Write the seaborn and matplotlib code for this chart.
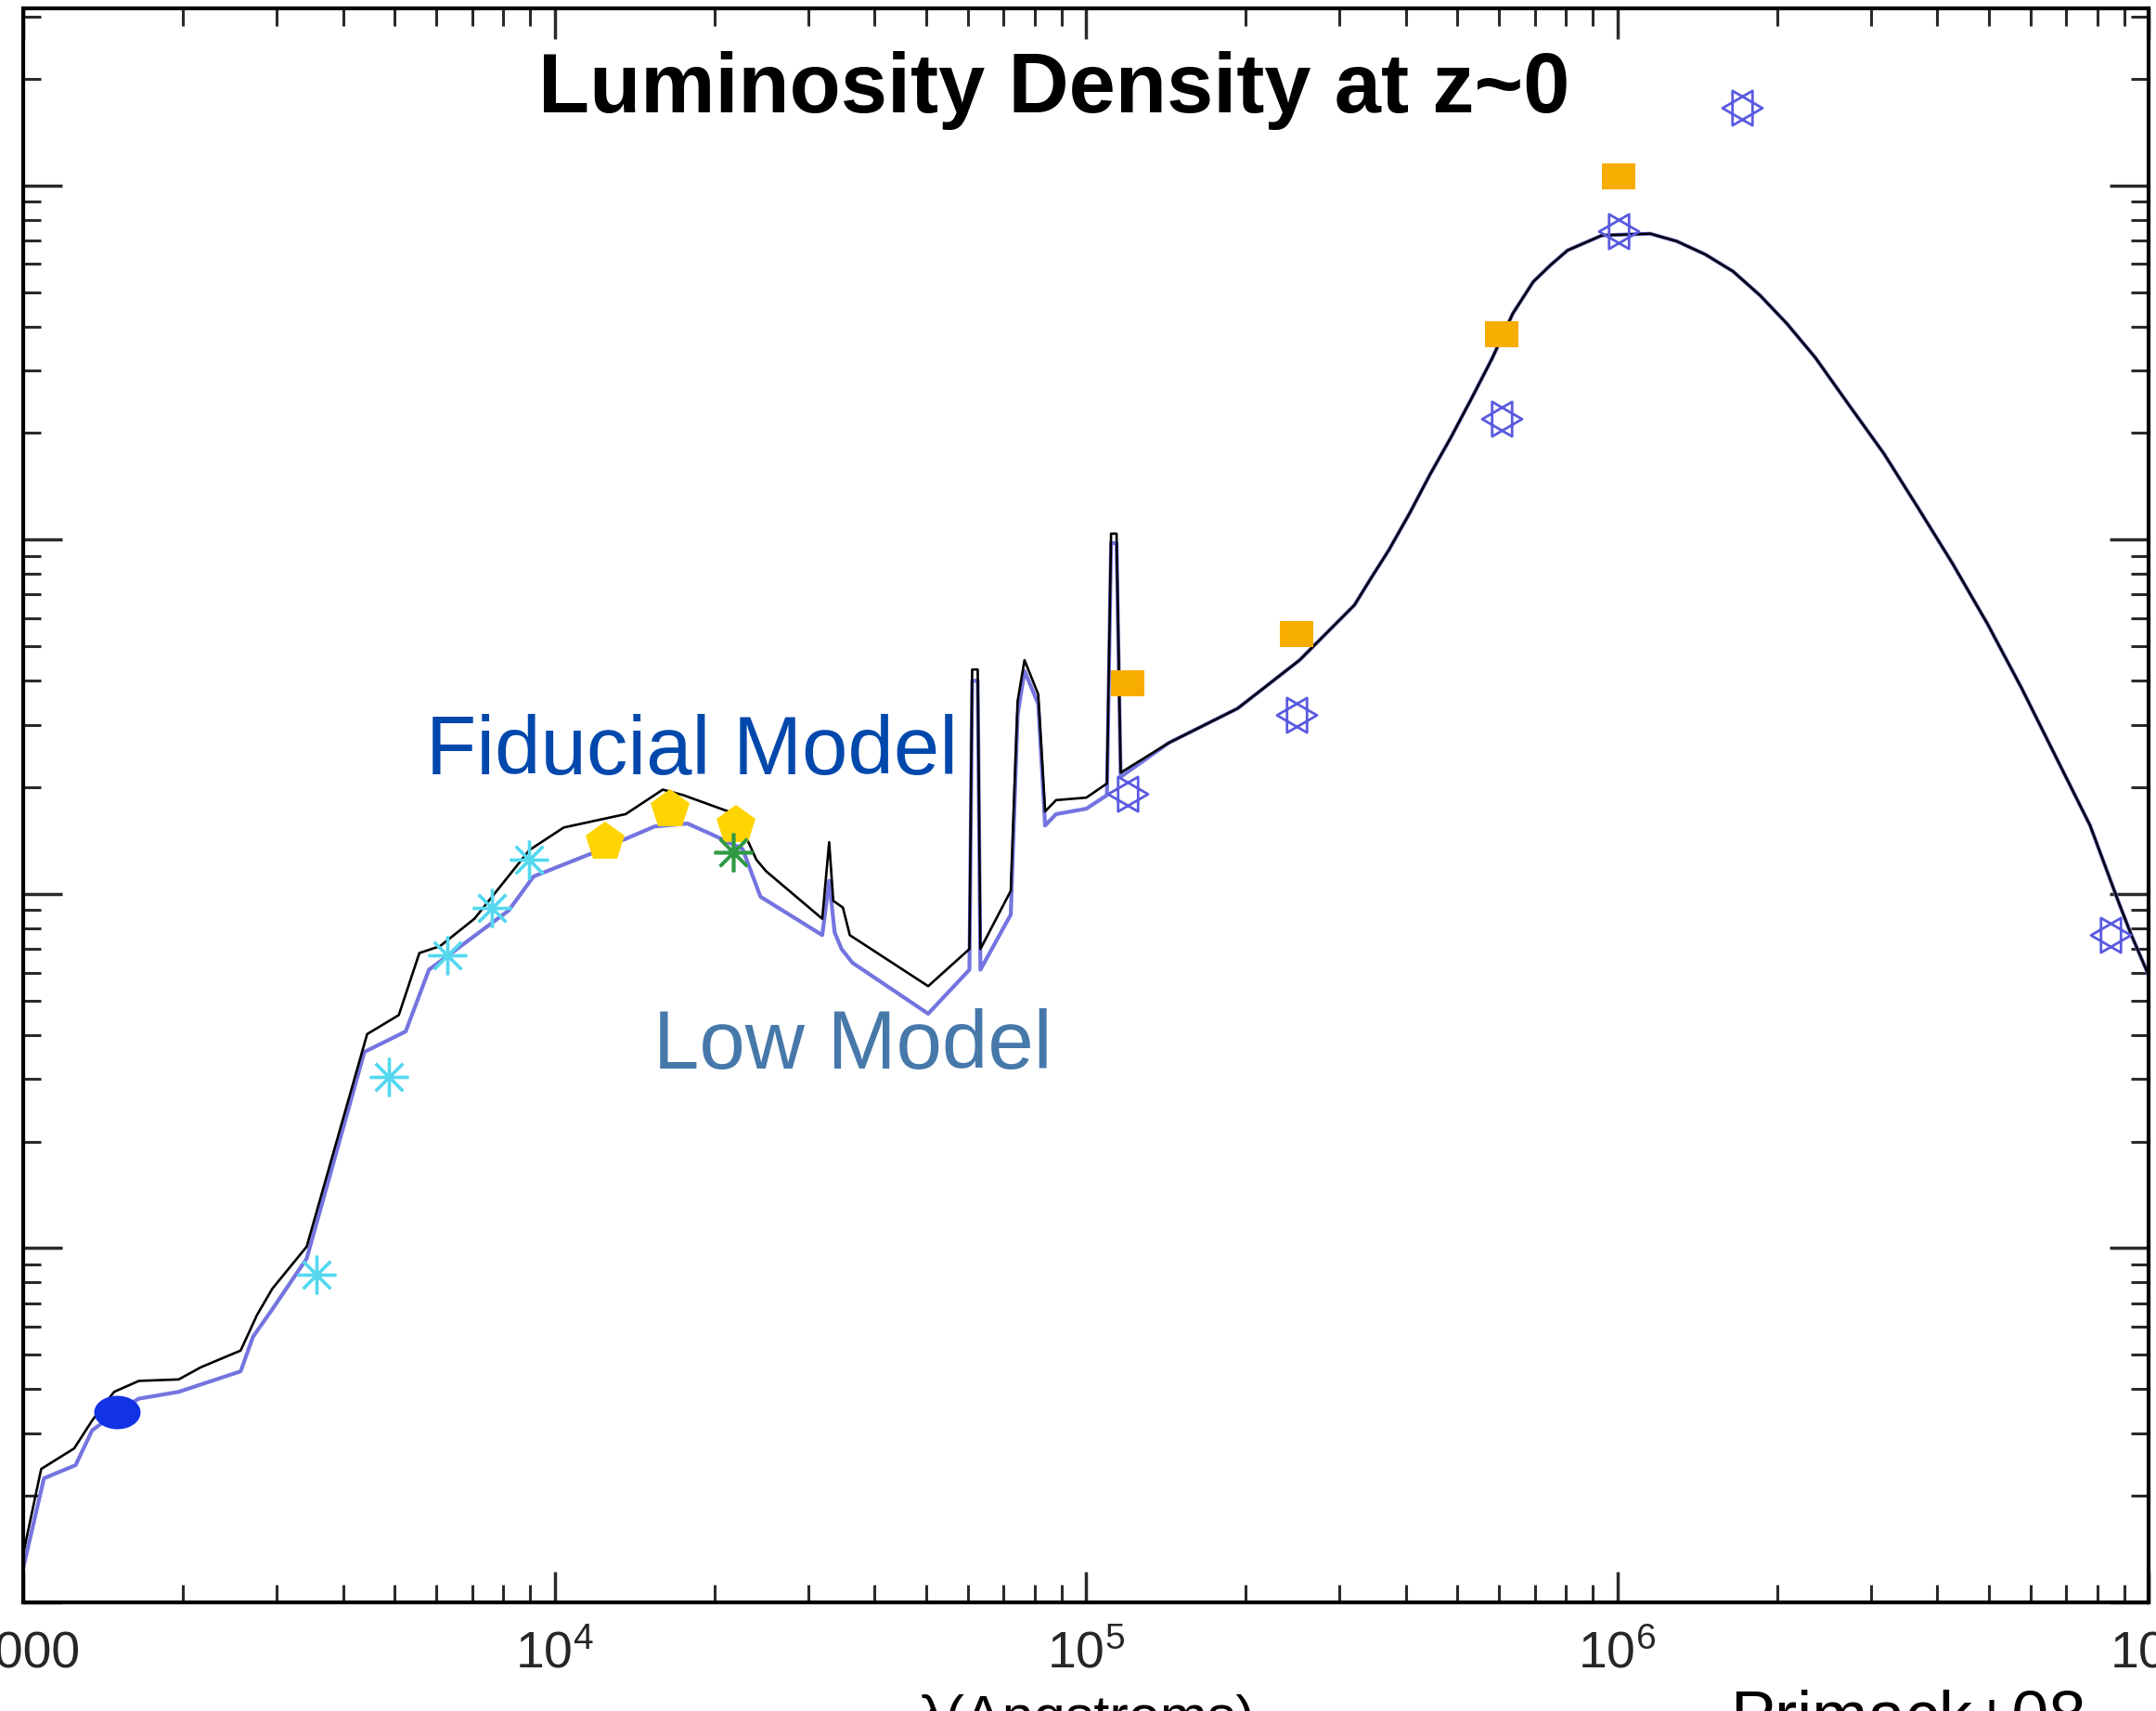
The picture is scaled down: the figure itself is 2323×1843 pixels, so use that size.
import numpy as np
import pandas as pd
import matplotlib
matplotlib.use("Agg")
import matplotlib.pyplot as plt
import seaborn as sns
from matplotlib.path import Path
from matplotlib.ticker import FixedLocator, FixedFormatter, LogLocator, NullFormatter

# ---------------- data (wavelength in Angstrom, luminosity density) ----------------
# shared far-infrared part (both models coincide there)
wave_fir = [143250, 193050, 252400, 320200, 345000, 371700, 407000, 444500, 486000,
            531500, 581000, 636000, 695100, 749000, 806400, 936100, 1153000,
            1294000, 1464000, 1652000, 1858000, 2087000, 2358000, 2730000, 3176000,
            3683000, 4279000, 4977000, 5763000, 6680000, 7762000, 8800000, 9283000,
            10000000]
lum_fir = [2.67e34, 3.34e34, 4.57e34, 6.54e34, 7.84e34, 9.35e34, 1.19e35, 1.53e35,
           1.94e35, 2.50e35, 3.24e35, 4.35e35, 5.35e35, 5.96e35, 6.56e35, 7.23e35,
           7.31e35, 6.96e35, 6.39e35, 5.72e35, 4.89e35, 4.07e35, 3.27e35, 2.40e35,
           1.75e35, 1.23e35, 8.55e34, 5.78e34, 3.82e34, 2.45e34, 1.56e34, 9.40e33,
           7.65e33, 5.90e33]

wave_fid = [1000, 1081, 1247, 1348, 1483, 1651, 1962, 2159, 2566, 2755, 2943, 3416,
            4439, 5092, 5567, 6087, 7067, 8968, 10406, 13610, 15987, 17480, 21924,
            23976, 24995, 31903, 32871, 33464, 34889, 35951, 50488, 60368, 61094,
            62573, 63312, 72211, 74389, 76648, 81339, 83807, 87880, 100190, 109550,
            111530, 114210, 116280] + wave_fir
lum_fid = [1.37e32, 2.38e32, 2.72e32, 3.26e32, 3.93e32, 4.22e32, 4.26e32, 4.61e32,
           5.14e32, 6.48e32, 7.68e32, 1.01e33,
           4.02e33, 4.55e33, 6.81e33, 7.12e33, 8.51e33, 1.33e34, 1.54e34, 1.68e34,
           1.97e34, 1.90e34, 1.68e34,
           1.25e34, 1.16e34, 8.51e33, 1.40e34, 9.56e33, 9.15e33, 7.65e33, 5.49e33,
           6.99e33, 4.30e34,
           4.30e34, 6.99e33, 1.02e34, 3.50e34, 4.57e34, 3.66e34, 1.71e34, 1.84e34,
           1.87e34, 2.05e34,
           1.04e35, 1.04e35, 2.20e34] + lum_fir

wave_low = [1000, 1094, 1255, 1348, 1501, 1651, 1962, 2566, 2707, 2943, 3416, 4386,
            5246, 5803, 8199, 9128, 11726, 15424, 17795, 19815, 22586, 24410, 31903,
            32871, 33665, 34687, 36377, 50488, 60368, 61094, 62573, 63312, 72211,
            74389, 76648, 81339, 83807, 87880, 100190, 109550, 111530, 114210,
            116280] + wave_fir
lum_low = [1.25e32, 2.24e32, 2.44e32, 3.06e32, 3.44e32, 3.76e32, 3.93e32, 4.49e32,
           5.62e32, 6.72e32, 9.35e32, 3.58e33,
           4.09e33, 6.11e33, 8.98e33, 1.12e34, 1.30e34, 1.55e34, 1.58e34, 1.47e34,
           1.34e34, 9.82e33, 7.65e33,
           1.09e34, 7.78e33, 6.99e33, 6.39e33, 4.59e33, 6.11e33, 4.00e34, 4.00e34,
           6.11e33, 8.74e33,
           3.20e34, 4.26e34, 3.44e34, 1.56e34, 1.68e34, 1.74e34, 1.90e34, 9.78e34,
           9.78e34,
           2.14e34] + lum_fir

wave_dot = [1501]
lum_dot = [3.44e32]
wave_cyan = [3561, 4884, 6272, 7636, 8968]
lum_cyan = [8.40e32, 3.04e33, 6.69e33, 9.15e33, 1.25e34]
wave_yel = [12445, 16470, 21924]
lum_yel = [1.40e34, 1.73e34, 1.56e34]
wave_grn = [21663]
lum_grn = [1.31e34]
wave_org = [119800, 249400, 605900, 1005000]
lum_org = [3.93e34, 5.42e34, 3.81e35, 1.06e36]
wave_hex = [119800, 249400, 605900, 1005000, 1719000, 8490000]
lum_hex = [1.92e34, 3.20e34, 2.19e35, 7.44e35, 1.66e36, 7.65e33]

xtick_vals = [1e3, 1e4, 1e5, 1e6, 1e7]
xtick_labels = ['1000', r'$\mathregular{10^{4}}$', r'$\mathregular{10^{5}}$',
                r'$\mathregular{10^{6}}$', r'$\mathregular{10^{7}}$']

# ---------------- style ----------------
sns.set_style("white")
plt.rcParams['font.family'] = ['Liberation Sans', 'DejaVu Sans']
plt.rcParams['mathtext.fontset'] = 'custom'
plt.rcParams['mathtext.rm'] = 'Liberation Sans'
plt.rcParams['mathtext.it'] = 'Liberation Sans:italic'
plt.rcParams['mathtext.bf'] = 'Liberation Sans:bold'

fig = plt.figure(figsize=(23.23, 18.43), dpi=100)
ax = fig.add_axes([25 / 2323, 117 / 1843, 2290 / 2323, 1717 / 1843])
ax.set_xscale('log')
ax.set_yscale('log')
ax.set_xlim(1e3, 1e7)
ax.set_ylim(1e32, 10 ** 36.5)

# custom markers
t = np.linspace(0, 2 * np.pi, 64)
ellipse = Path(np.column_stack([np.cos(t), 0.72 * np.sin(t)]))
rect = Path([(-1, -0.75), (1, -0.75), (1, 0.75), (-1, 0.75), (-1, -0.75)],
            [Path.MOVETO, Path.LINETO, Path.LINETO, Path.LINETO, Path.CLOSEPOLY])
a1 = np.deg2rad([0, 120, 240, 0])
a2 = np.deg2rad([60, 180, 300, 60])
hverts = np.vstack([np.column_stack([np.cos(a1), np.sin(a1)]),
                    np.column_stack([np.cos(a2), np.sin(a2)])])
hcodes = [Path.MOVETO, Path.LINETO, Path.LINETO, Path.CLOSEPOLY] * 2
hexagram = Path(hverts, hcodes)

df_low = pd.DataFrame({'wave': wave_low, 'lum': lum_low})
df_fid = pd.DataFrame({'wave': wave_fid, 'lum': lum_fid})

sns.lineplot(data=df_low, x='wave', y='lum', ax=ax, sort=False, estimator=None,
             color='#7474E0', linewidth=3.0, zorder=2)
sns.lineplot(data=df_fid, x='wave', y='lum', ax=ax, sort=False, estimator=None,
             color='#000000', linewidth=1.9, zorder=3)

def marks(xs, ys, **kw):
    sns.lineplot(x=xs, y=ys, ax=ax, sort=False, estimator=None,
                 linestyle='none', zorder=5, **kw)

marks(wave_cyan, lum_cyan, marker=(8, 2, 0), markersize=30, mec='#55D8EE', mew=2.4,
      color='#55D8EE')
marks(wave_yel, lum_yel, marker='p', markersize=32, mfc='#FFD400', mec='#FFD400',
      mew=0, color='#FFD400')
marks(wave_grn, lum_grn, marker=(8, 2, 0), markersize=30, mec='#2F9A45', mew=2.6,
      color='#2F9A45')
marks(wave_dot, lum_dot, marker=ellipse, markersize=36, mfc='#1232E6', mec='#1232E6',
      mew=0, color='#1232E6')
marks(wave_org, lum_org, marker=rect, markersize=26, mfc='#F7AC00', mec='#F7AC00',
      mew=0, color='#F7AC00')
marks(wave_hex, lum_hex, marker=hexagram, markersize=31, mfc='none', mec='#5A5AE0',
      mew=2.0, color='#5A5AE0')

# axes & ticks
ax.xaxis.set_major_locator(FixedLocator(xtick_vals))
ax.xaxis.set_major_formatter(FixedFormatter(xtick_labels))
ax.xaxis.set_minor_locator(LogLocator(base=10, subs=np.arange(2, 10), numticks=50))
ax.xaxis.set_minor_formatter(NullFormatter())
ax.yaxis.set_major_locator(LogLocator(base=10, numticks=20))
ax.yaxis.set_minor_locator(LogLocator(base=10, subs=np.arange(2, 10), numticks=50))
ax.yaxis.set_major_formatter(NullFormatter())
ax.yaxis.set_minor_formatter(NullFormatter())
ax.tick_params(which='both', direction='in', top=True, right=True, bottom=True,
               left=True, color='#2a2a2a')
ax.tick_params(axis='x', which='major', length=24, width=2.5)
ax.tick_params(axis='y', which='major', length=30, width=2.5)
ax.tick_params(which='minor', length=14, width=2.2)
ax.tick_params(axis='x', which='major', labelsize=40, pad=22)
ax.set_xlabel('')
ax.set_ylabel('')
for s in ax.spines.values():
    s.set_linewidth(3)
    s.set_color('black')

# texts
fig.text(0.489, 0.9343, 'Luminosity Density at z~0', ha='center', va='baseline',
         fontsize=65, fontweight='bold', color='black')
fig.text(0.1976, 0.5475, 'Fiducial Model', ha='left', va='baseline',
         fontsize=64, color='#0048AC')
fig.text(0.3030, 0.3755, 'Low Model', ha='left', va='baseline',
         fontsize=64, color='#4678AA')
fig.text(0.5037, 0.0098, 'λ(Angstroms)', ha='center', va='top',
         fontsize=44, color='black')
fig.text(0.8024, -0.0152, 'Primack+08', ha='left', va='baseline',
         fontsize=52, color='black')

fig.savefig('out.png', dpi=100)
